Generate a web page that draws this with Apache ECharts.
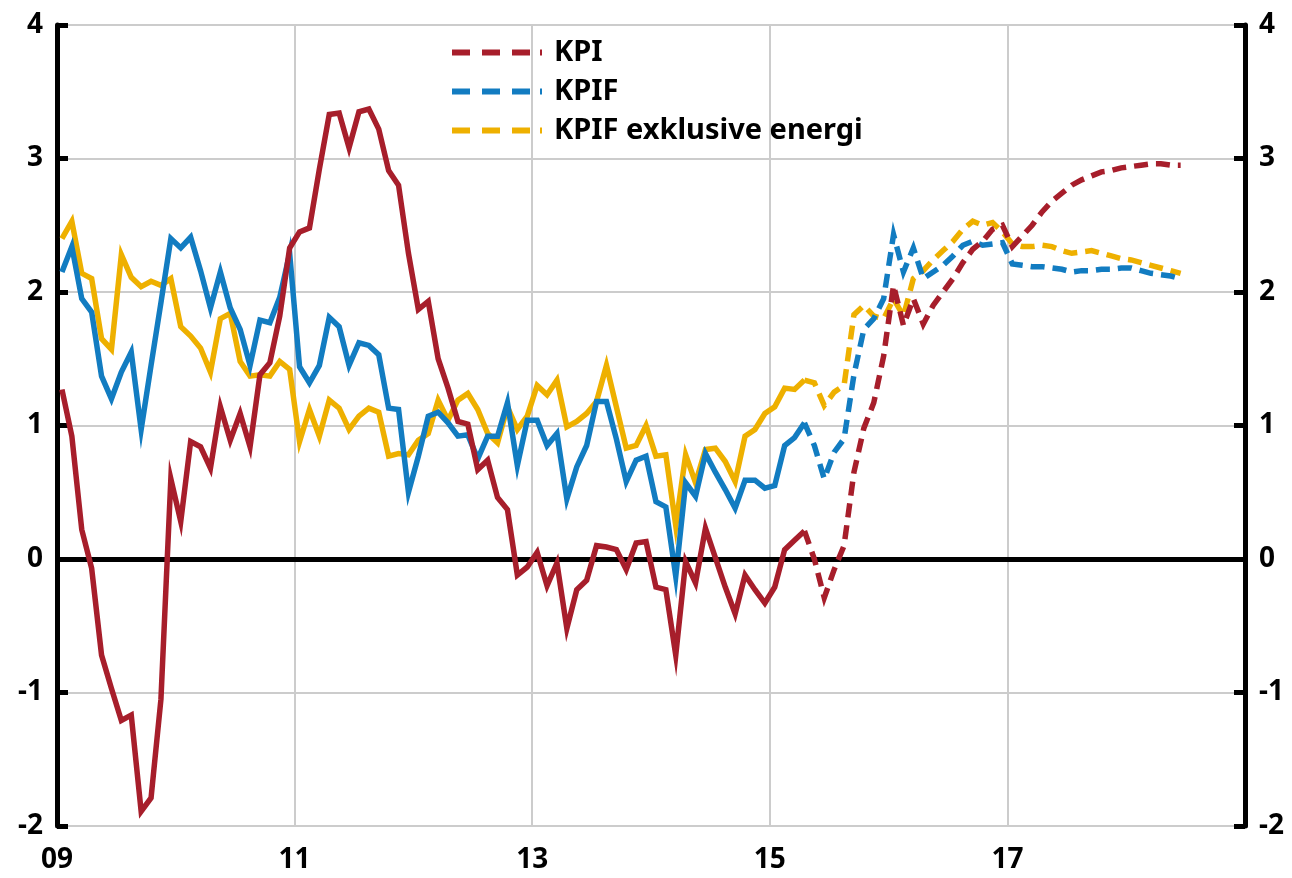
<!DOCTYPE html>
<html>
<head>
<meta charset="utf-8">
<script src="https://cdn.jsdelivr.net/npm/echarts@6/dist/echarts.min.js"></script>
<style>
  html, body { margin: 0; padding: 0; background: #fff; }
  #chart { width: 1292px; height: 878px; }
</style>
</head>
<body>
<div id="chart"></div>
<script>
// Monthly inflation, annual % change, Jan 2009 onwards.
// Outcomes up to index lastOutcome, forecast afterwards.
const startYear = 2009;
const lastOutcome = 75; // April 2015
const xTickLabels = ['09', '11', '13', '15', '17'];
const yTicks = [-2, -1, 0, 1, 2, 3, 4];

const kpi = [
  1.27, 0.92, 0.22, -0.07, -0.72, -0.97, -1.21, -1.17, -1.89, -1.79, -1.05, 0.60,
  0.28, 0.88, 0.84, 0.68, 1.14, 0.89, 1.09, 0.84, 1.38, 1.47, 1.82, 2.33,
  2.45, 2.48, 2.92, 3.33, 3.34, 3.08, 3.35, 3.37, 3.22, 2.91, 2.80, 2.29,
  1.87, 1.93, 1.50, 1.28, 1.03, 1.01, 0.67, 0.74, 0.46, 0.37, -0.12, -0.06,
  0.05, -0.20, -0.03, -0.52, -0.23, -0.16, 0.10, 0.09, 0.07, -0.08, 0.12, 0.13,
  -0.21, -0.23, -0.72, -0.02, -0.18, 0.23, 0.01, -0.21, -0.41, -0.12, -0.23, -0.33,
  -0.21, 0.07, 0.14, 0.21, 0.00, -0.29, -0.08, 0.10, 0.65, 0.98, 1.17, 1.52,
  2.05, 1.75, 1.95, 1.76, 1.90, 2.00, 2.10, 2.22, 2.32, 2.38, 2.47, 2.50,
  2.34, 2.42, 2.50, 2.60, 2.68, 2.74, 2.80, 2.84, 2.87, 2.90, 2.91, 2.93,
  2.94, 2.95, 2.96, 2.96, 2.95, 2.95
];

const kpif = [
  2.15, 2.34, 1.95, 1.85, 1.37, 1.20, 1.40, 1.55, 0.97, 1.45, 1.92, 2.40,
  2.33, 2.41, 2.16, 1.88, 2.15, 1.88, 1.72, 1.45, 1.79, 1.77, 1.96, 2.29,
  1.44, 1.32, 1.45, 1.81, 1.74, 1.45, 1.62, 1.60, 1.53, 1.13, 1.12, 0.50,
  0.77, 1.07, 1.10, 1.02, 0.92, 0.93, 0.75, 0.92, 0.92, 1.17, 0.70, 1.04,
  1.04, 0.85, 0.94, 0.45, 0.69, 0.85, 1.18, 1.18, 0.90, 0.58, 0.74, 0.77,
  0.43, 0.39, -0.13, 0.57, 0.47, 0.79, 0.65, 0.52, 0.38, 0.59, 0.59, 0.53,
  0.55, 0.85, 0.91, 1.02, 0.85, 0.60, 0.80, 0.90, 1.38, 1.72, 1.80, 1.95,
  2.43, 2.15, 2.33, 2.10, 2.15, 2.20, 2.27, 2.35, 2.38, 2.35, 2.36, 2.37,
  2.21, 2.20, 2.19, 2.19, 2.18, 2.17, 2.15, 2.16, 2.16, 2.17, 2.17, 2.18,
  2.18, 2.16, 2.14, 2.13, 2.12, 2.10
];

const kpifExEnergy = [
  2.40, 2.53, 2.14, 2.10, 1.65, 1.57, 2.28, 2.11, 2.04, 2.08, 2.05, 2.10,
  1.74, 1.67, 1.58, 1.40, 1.80, 1.84, 1.48, 1.37, 1.38, 1.37, 1.48, 1.42,
  0.88, 1.12, 0.92, 1.19, 1.13, 0.97, 1.07, 1.13, 1.10, 0.77, 0.79, 0.78,
  0.89, 0.94, 1.19, 1.04, 1.19, 1.24, 1.12, 0.94, 0.87, 1.14, 0.97, 1.07,
  1.30, 1.23, 1.34, 0.99, 1.03, 1.09, 1.18, 1.45, 1.14, 0.83, 0.85, 1.00,
  0.77, 0.78, 0.25, 0.78, 0.57, 0.82, 0.83, 0.73, 0.58, 0.92, 0.97, 1.09,
  1.14, 1.28, 1.27, 1.34, 1.32, 1.15, 1.25, 1.30, 1.83, 1.90, 1.82, 1.80,
  1.95, 1.82, 2.10, 2.16, 2.24, 2.31, 2.38, 2.47, 2.53, 2.50, 2.52, 2.45,
  2.36, 2.34, 2.34, 2.35, 2.34, 2.31, 2.29, 2.30, 2.31, 2.29, 2.27, 2.25,
  2.24, 2.22, 2.20, 2.18, 2.16, 2.14
];

const names = ['KPI', 'KPIF', 'KPIF exklusive energi'];
const colors = ['#A71E2B', '#127CC1', '#EEB000'];

// Legend key: a short dashed stroke
const dashedKey = 'path://M0,0h18v6h-18z M30,0h18v6h-18z M60,0h18v6h-18z M88,0h2v6h-2z';

// Each month is placed in the middle of its month on a months-since-Jan-2009 scale.
function toPoints(values, from, to) {
  const pts = [];
  for (let i = from; i <= to; i++) pts.push([i + 0.5, values[i]]);
  return pts;
}

function lineSeries(name, color, values, dashed, z) {
  const from = dashed ? lastOutcome : 0;
  const to = dashed ? values.length - 1 : lastOutcome;
  return {
    name: name,
    type: 'line',
    data: toPoints(values, from, to),
    showSymbol: false,
    symbol: 'none',
    z: z,
    lineStyle: { color: color, width: 5.5, type: dashed ? [14, 8] : 'solid', cap: 'butt', join: 'miter' },
    itemStyle: { color: color },
    emphasis: { disabled: true },
    animation: false
  };
}

const seriesValues = [kpi, kpif, kpifExEnergy];
const series = [];
// Drawn bottom-up: energy-excluded measure first, KPI on top.
[2, 1, 0].forEach((k, order) => {
  series.push(lineSeries(names[k] + ' utfall', colors[k], seriesValues[k], false, 3 + order));
  series.push(lineSeries(names[k], colors[k], seriesValues[k], true, 3 + order));
});

// Zero line
series.push({
  type: 'line',
  data: [],
  z: 2,
  markLine: {
    silent: true,
    symbol: 'none',
    label: { show: false },
    lineStyle: { color: '#000', width: 5, type: 'solid' },
    data: [{ yAxis: 0 }],
    animation: false
  }
});

const labelFont = { fontFamily: 'Noto Sans', fontWeight: 'bold', fontSize: 28, color: '#000' };

const yAxisBase = {
  type: 'value',
  min: -2,
  max: 4,
  interval: 1,
  axisLine: { show: true, lineStyle: { color: '#000', width: 5 } },
  axisTick: { show: true, inside: true, length: 11, lineStyle: { color: '#000', width: 5 } },
  axisLabel: Object.assign({ margin: 14, formatter: v => yTicks.includes(v) ? String(v) : '' }, labelFont)
};

const chart = echarts.init(document.getElementById('chart'), null, { renderer: 'canvas' });
chart.setOption({
  animation: false,
  backgroundColor: '#fff',
  grid: { left: 57, right: 47, top: 25, bottom: 52, containLabel: false },
  legend: {
    data: names.map((n, k) => ({ name: n, icon: dashedKey, itemStyle: { color: colors[k] } })),
    orient: 'vertical',
    left: 447,
    top: 31,
    itemWidth: 90,
    itemHeight: 6,
    itemGap: 6,
    selectedMode: false,
    textStyle: { fontFamily: 'Noto Sans', fontWeight: 'bold', fontSize: 29, color: '#000', lineHeight: 33, padding: [0, 0, 0, 7] }
  },
  xAxis: {
    type: 'value',
    min: 0,
    max: 120,
    interval: 24,
    axisLine: { show: false },
    axisTick: { show: false },
    splitLine: { show: true, lineStyle: { color: '#cccccc', width: 2 } },
    axisLabel: Object.assign({
      margin: 20,
      formatter: v => {
        const idx = v / 24;
        return idx < xTickLabels.length ? xTickLabels[idx] : '';
      }
    }, labelFont)
  },
  yAxis: [
    Object.assign({}, yAxisBase, {
      position: 'left',
      splitLine: { show: true, lineStyle: { color: '#cccccc', width: 2 } }
    }),
    Object.assign({}, yAxisBase, {
      position: 'right',
      splitLine: { show: false }
    })
  ],
  series: series
});
</script>
</body>
</html>
